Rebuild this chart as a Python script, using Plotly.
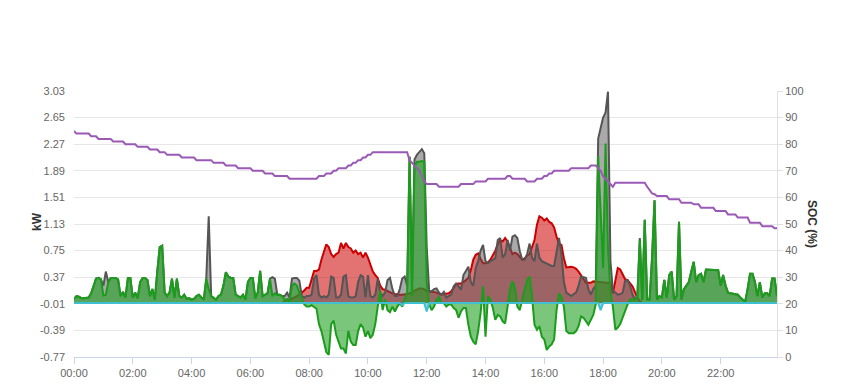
import pandas as pd
import plotly.graph_objects as go

# 5-minute samples, 00:00 .. 23:55
times = pd.date_range("2024-01-01 00:00", periods=288, freq="5min")

# Grid power (kW): + import / - export  (green)
grid_kw = [
    0.06, 0.10, 0.09, 0.07, 0.07, 0.07, 0.08, 0.14, 0.25, 0.35, 0.36, 0.34,
    0.11, 0.12, 0.30, 0.36, 0.36, 0.36, 0.34, 0.10, 0.16, 0.08, 0.36, 0.36,
    0.08, 0.15, 0.07, 0.30, 0.36, 0.36, 0.33, 0.10, 0.20, 0.05, 0.45, 0.80,
    0.82, 0.15, 0.10, 0.15, 0.35, 0.08, 0.35, 0.10, 0.08, 0.12, 0.06, 0.07,
    0.05, 0.06, 0.10, 0.12, 0.08, 0.05, 0.35, 0.20, 0.10, 0.08, 0.05, 0.10,
    0.12, 0.25, 0.44, 0.38, 0.36, 0.36, 0.12, 0.10, 0.08, 0.12, 0.05, 0.30,
    0.36, 0.36, 0.07, 0.15, 0.46, 0.10, 0.12, 0.14, 0.35, 0.10, 0.14, 0.12,
    0.12, 0.10, 0.05, 0.05, 0.02, 0.25, 0.28, 0.25, 0.15, 0.05, -0.02, -0.05,
    -0.05, -0.03, -0.05, -0.08, -0.30, -0.40, -0.55, -0.70, -0.74, -0.30, -0.25, -0.45,
    -0.55, -0.65, -0.65, -0.72, -0.40, -0.55, -0.60, -0.60, -0.40, -0.30, -0.35, -0.48,
    -0.40, -0.50, -0.45, -0.30, -0.05, 0.18, -0.10, 0.05, -0.10, -0.13, -0.05, -0.12,
    -0.05, 0.00, -0.05, 0.05, 0.15, 2.09, 0.10, 1.95, 2.02, 2.02, 2.03, 2.02,
    0.30, -0.02, -0.10, -0.05, 0.05, 0.09, 0.00, 0.00, -0.05, -0.02, -0.02, -0.07,
    -0.10, -0.21, -0.12, -0.07, -0.07, -0.31, -0.48, -0.55, -0.59, -0.40, -0.14, 0.24,
    -0.48, 0.10, 0.05, -0.07, -0.24, -0.17, -0.19, -0.26, -0.29, -0.05, 0.19, 0.31,
    0.21, -0.05, -0.10, 0.05, 0.21, 0.33, 0.38, 0.09, -0.31, -0.38, -0.33, -0.48,
    -0.52, -0.67, -0.62, -0.59, -0.52, -0.10, 0.14, 0.09, -0.05, -0.40, -0.43, -0.43,
    -0.43, -0.40, -0.33, -0.19, -0.21, -0.26, -0.31, -0.24, -0.17, -0.02, 2.10, 1.30,
    0.50, 2.28, 0.80, 0.15, -0.05, -0.38, -0.35, -0.30, -0.20, -0.10, -0.02, 0.05,
    0.05, 0.05, 0.10, 0.90, 0.05, 1.19, 0.05, 0.05, 0.65, 1.47, 0.05, 0.10,
    0.08, 0.33, 0.08, 0.40, 0.45, 0.05, 0.10, 1.16, 0.05, 0.20, 0.25, 0.30,
    0.45, 0.59, 0.30, 0.40, 0.42, 0.30, 0.48, 0.48, 0.48, 0.48, 0.48, 0.47,
    0.25, 0.40, 0.25, 0.15, 0.14, 0.13, 0.12, 0.12, 0.08, 0.05, 0.02, 0.20,
    0.42, 0.42, 0.30, 0.10, 0.30, 0.08, 0.14, 0.14, 0.10, 0.35, 0.35, 0.10,
]

# House load (kW)  (grey)
load_kw = [
    0.06, 0.10, 0.09, 0.07, 0.07, 0.07, 0.08, 0.14, 0.25, 0.35, 0.36, 0.34,
    0.25, 0.45, 0.30, 0.36, 0.36, 0.36, 0.34, 0.10, 0.16, 0.08, 0.36, 0.36,
    0.08, 0.15, 0.07, 0.30, 0.36, 0.36, 0.33, 0.10, 0.20, 0.05, 0.45, 0.80,
    0.82, 0.15, 0.10, 0.15, 0.35, 0.08, 0.35, 0.10, 0.08, 0.12, 0.06, 0.07,
    0.05, 0.06, 0.10, 0.12, 0.08, 0.05, 0.35, 1.24, 0.10, 0.08, 0.05, 0.10,
    0.12, 0.25, 0.44, 0.38, 0.36, 0.36, 0.12, 0.10, 0.08, 0.12, 0.05, 0.30,
    0.36, 0.36, 0.07, 0.15, 0.46, 0.10, 0.12, 0.14, 0.35, 0.37, 0.35, 0.12,
    0.12, 0.10, 0.10, 0.15, 0.08, 0.35, 0.36, 0.36, 0.32, 0.10, 0.08, 0.10,
    0.10, 0.12, 0.35, 0.40, 0.12, 0.08, 0.10, 0.08, 0.12, 0.38, 0.36, 0.08,
    0.08, 0.12, 0.38, 0.40, 0.10, 0.08, 0.08, 0.10, 0.30, 0.40, 0.38, 0.08,
    0.40, 0.10, 0.08, 0.12, 0.35, 0.15, 0.10, 0.15, 0.33, 0.36, 0.20, 0.10,
    0.10, 0.20, 0.35, 0.38, 0.25, 2.09, 0.30, 2.05, 2.12, 2.16, 2.20, 2.14,
    0.80, 0.17, 0.17, 0.20, 0.21, 0.15, 0.12, 0.16, 0.08, 0.10, 0.12, 0.24,
    0.28, 0.24, 0.19, 0.40, 0.47, 0.52, 0.30, 0.25, 0.50, 0.60, 0.75, 0.83,
    0.60, 0.57, 0.60, 0.62, 0.64, 0.90, 0.93, 0.65, 0.70, 0.90, 0.75, 0.95,
    0.97, 0.93, 0.74, 0.62, 0.62, 0.70, 0.85, 0.65, 0.60, 0.85, 0.65, 0.60,
    0.58, 0.56, 0.54, 0.53, 0.53, 0.75, 0.93, 0.70, 0.30, 0.15, 0.12, 0.10,
    0.13, 0.15, 0.25, 0.38, 0.37, 0.36, 0.20, 0.12, 0.20, 0.25, 2.35, 2.50,
    2.65, 2.72, 3.02, 0.60, 0.17, 0.15, 0.12, 0.13, 0.15, 0.32, 0.33, 0.25,
    0.12, 0.05, 0.10, 0.93, 0.05, 1.19, 0.05, 0.05, 0.65, 1.47, 0.05, 0.10,
    0.08, 0.33, 0.08, 0.40, 0.45, 0.05, 0.10, 1.16, 0.05, 0.20, 0.25, 0.30,
    0.45, 0.59, 0.30, 0.40, 0.42, 0.30, 0.48, 0.48, 0.48, 0.48, 0.48, 0.47,
    0.25, 0.40, 0.25, 0.15, 0.14, 0.13, 0.12, 0.12, 0.08, 0.05, 0.02, 0.20,
    0.42, 0.42, 0.30, 0.10, 0.30, 0.08, 0.14, 0.14, 0.10, 0.35, 0.35, 0.10,
]

# PV production (kW)  (red)
pv_kw = [0.0] * 84 + [
    0.00, 0.00, 0.03, 0.05, 0.05, 0.06, 0.08, 0.10, 0.12, 0.15, 0.18, 0.22,
    0.22, 0.35, 0.46, 0.46, 0.48, 0.62, 0.75, 0.84, 0.80, 0.70, 0.66, 0.70,
    0.72, 0.86, 0.78, 0.86, 0.80, 0.78, 0.72, 0.75, 0.70, 0.72, 0.65, 0.72,
    0.65, 0.55, 0.45, 0.40, 0.36, 0.25, 0.20, 0.19, 0.17, 0.15, 0.14, 0.13,
    0.12, 0.12, 0.12, 0.12, 0.13, 0.14, 0.15, 0.18, 0.20, 0.21, 0.21, 0.20,
    0.17, 0.17, 0.17, 0.16, 0.15, 0.13, 0.12, 0.13, 0.14, 0.14, 0.17, 0.22,
    0.27, 0.28, 0.28, 0.30, 0.33, 0.36, 0.47, 0.62, 0.69, 0.71, 0.63, 0.57,
    0.57, 0.58, 0.62, 0.68, 0.75, 0.84, 0.90, 0.88, 0.93, 0.88, 0.80, 0.70,
    0.72, 0.70, 0.66, 0.62, 0.64, 0.68, 0.70, 0.80, 0.90, 1.12, 1.24, 1.22,
    1.18, 1.21, 1.16, 1.14, 1.08, 0.95, 0.85, 0.83, 0.64, 0.51, 0.52, 0.52,
    0.51, 0.49, 0.45, 0.40, 0.35, 0.29, 0.29, 0.29, 0.31, 0.30, 0.30, 0.30,
    0.29, 0.29, 0.29, 0.29, 0.14, 0.30, 0.50, 0.48, 0.40, 0.34, 0.33, 0.28,
    0.24, 0.16, 0.08, 0.03, 0.00, 0.00, 0.00, 0.00, 0.00, 0.00, 0.00, 0.00,
] + [0.0] * 48

# Battery power (kW)  (cyan)
battery_kw = [0.0] * 134 + [-0.03] + [0.0] * 9 + [-0.12] + [0.0] * 70 + [-0.10] + [0.0] * 72

# Battery state of charge (%)  (purple, right axis)
soc_pct = [
    85, 84, 84, 84, 84, 84, 84, 83, 83, 83, 82, 82,
    82, 82, 82, 82, 81, 81, 81, 81, 81, 80, 80, 80,
    80, 80, 79, 79, 79, 79, 79, 78, 78, 78, 78, 77,
    77, 77, 76, 76, 76, 76, 76, 76, 75, 75, 75, 75,
    75, 75, 74, 74, 74, 74, 74, 74, 74, 73, 73, 73,
    73, 73, 72, 72, 72, 72, 72, 71, 71, 71, 71, 71,
    71, 70, 70, 70, 70, 70, 69, 69, 69, 69, 68, 68,
    68, 68, 68, 68, 67, 67, 67, 67, 67, 67, 67, 67,
    67, 67, 67, 67, 68, 68, 68, 69, 69, 69, 70, 70,
    71, 71, 71, 71, 72, 72, 73, 73, 74, 74, 75, 75,
    76, 76, 77, 77, 77, 77, 77, 77, 77, 77, 77, 77,
    77, 77, 77, 77, 77, 74, 73, 72, 71, 70, 68, 66,
    65, 65, 65, 65, 65, 64, 64, 64, 64, 64, 64, 64,
    64, 64, 65, 65, 65, 65, 65, 65, 66, 66, 66, 66,
    66, 67, 67, 67, 67, 67, 67, 67, 67, 68, 68, 67,
    67, 67, 67, 67, 67, 66, 66, 66, 66, 67, 67, 67,
    68, 68, 69, 69, 70, 70, 70, 70, 70, 70, 70, 71,
    71, 71, 71, 71, 71, 71, 71, 72, 72, 72, 71, 70,
    68, 67, 66, 65, 64, 65.5, 65.5, 65.5, 65.5, 65.5, 65.5, 65.5,
    65.5, 65.5, 65.5, 65.5, 65.5, 65.5, 64, 62.5, 61.5, 61.2, 60.5, 60.5,
    60.5, 60.5, 60.5, 59.3, 59.3, 59.3, 59.3, 59.3, 58, 58, 58, 58,
    58, 57.4, 57.4, 57.4, 56.1, 56.1, 56.1, 56.1, 56.1, 56.1, 54.9, 54.9,
    54.9, 54.9, 54.9, 53.6, 53.6, 53.6, 53.6, 52.4, 52.4, 52.4, 52.4, 52.4,
    50.5, 50.5, 50.5, 50.5, 50.5, 49.2, 49.2, 49.2, 49.2, 49.2, 48.4, 48.4,
]

kw_ticks = [-0.77, -0.39, -0.01, 0.37, 0.75, 1.13, 1.51, 1.89, 2.27, 2.65, 3.03]
soc_ticks = [0, 10, 20, 30, 40, 50, 60, 70, 80, 90, 100]

FONT = "Liberation Sans, Arial, sans-serif"

fig = go.Figure()
fig.add_trace(go.Scatter(x=times, y=pv_kw, mode="lines", fill="tozeroy",
                         line=dict(color="#cc0000", width=2),
                         fillcolor="rgba(204,0,0,0.55)", name="PV"))
fig.add_trace(go.Scatter(x=times, y=load_kw, mode="lines", fill="tozeroy",
                         line=dict(color="#555555", width=2),
                         fillcolor="rgba(85,85,85,0.5)", name="Load"))
fig.add_trace(go.Scatter(x=times, y=grid_kw, mode="lines", fill="tozeroy",
                         line=dict(color="#1c9c1c", width=2),
                         fillcolor="rgba(34,160,34,0.6)", name="Grid"))
fig.add_trace(go.Scatter(x=times, y=battery_kw, mode="lines", fill="tozeroy",
                         line=dict(color="#3fbfd0", width=2),
                         fillcolor="rgba(63,191,208,0.6)", name="Battery"))
fig.add_trace(go.Scatter(x=times, y=soc_pct, mode="lines", yaxis="y2",
                         line=dict(color="#9b59b6", width=2), name="SOC"))

tickfont = dict(family=FONT, size=11, color="#666666")

fig.update_layout(
    width=849, height=390,
    margin=dict(l=74, r=72, t=91, b=33),
    paper_bgcolor="white", plot_bgcolor="white",
    showlegend=False,
    font=dict(family=FONT),
    xaxis=dict(
        type="date",
        range=[times[0], times[-1]],
        tickformat="%H:%M", dtick=7200000, tick0=times[0],
        ticks="outside", ticklen=6, tickcolor="#ccd6eb",
        showline=True, linecolor="#ccd6eb", linewidth=1,
        showgrid=False, zeroline=False, tickfont=tickfont,
    ),
    yaxis=dict(
        range=[-0.77, 3.03],
        tickvals=kw_ticks, ticktext=[f"{v:.2f}" for v in kw_ticks],
        gridcolor="#e6e6e6", gridwidth=1, zeroline=False,
        showline=False, tickfont=tickfont, ticks="", ticklabelstandoff=8,
    ),
    yaxis2=dict(
        overlaying="y", side="right", range=[0, 100],
        tickvals=soc_ticks, ticktext=[str(v) for v in soc_ticks],
        showgrid=False, zeroline=False,
        showline=True, linecolor="#e0e0e0", linewidth=1,
        ticks="outside", ticklen=5, tickcolor="#e0e0e0",
        tickfont=tickfont,
    ),
    annotations=[
        dict(text="<b>kW</b>", x=28, y=222, xref="paper", yref="paper",
             showarrow=False, textangle=-90, font=dict(family=FONT, size=12, color="#333333")),
        dict(text="<b>SOC (%)</b>", x=821, y=224, xref="paper", yref="paper",
             showarrow=False, textangle=90, font=dict(family=FONT, size=12, color="#333333")),
    ],
)

# convert pixel positions of axis titles to paper coords
pw = 849 - 74 - 72
ph = 390 - 91 - 33
for ann in fig.layout.annotations:
    ann.x = (ann.x - 74) / pw
    ann.y = (390 - 33 - ann.y) / ph

fig.write_html("out.html")
